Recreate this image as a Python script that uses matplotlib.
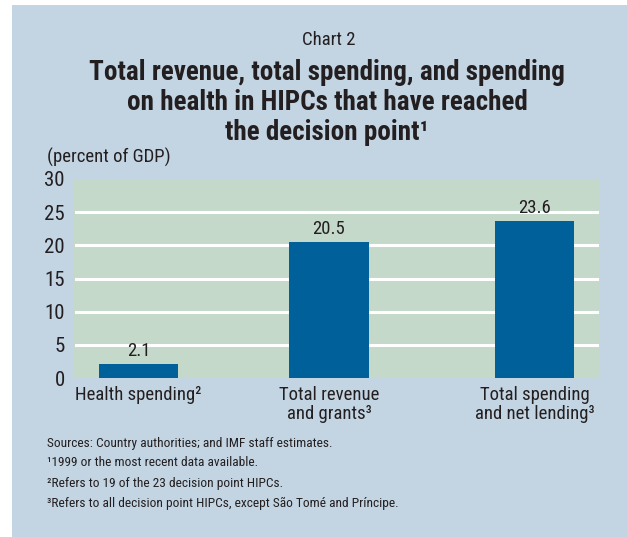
import matplotlib
matplotlib.use("Agg")
import matplotlib.pyplot as plt
from matplotlib import font_manager as fm
from matplotlib.patches import Rectangle

categories = ["Health spending\u00b2", "Total revenue\nand grants\u00b3", "Total spending\nand net lending\u00b3"]
values = [2.1, 20.5, 23.6]
value_labels = ["2.1", "20.5", "23.6"]
yticks = [0, 5, 10, 15, 20, 25, 30]
footnotes = [
    "Sources: Country authorities; and IMF staff estimates.",
    "\u00b91999 or the most recent data available.",
    "\u00b2Refers to 19 of the 23 decision point HIPCs.",
    "\u00b3Refers to all decision point HIPCs, except S\u00e3o Tom\u00e9 and Pr\u00edncipe.",
]

names = {f.name for f in fm.fontManager.ttflist}
pref = [n for n in ["Liberation Sans Narrow", "Roboto Condensed", "Roboto", "Liberation Sans"] if n in names]
fam = pref[:1] + ["DejaVu Sans"]
plt.rcParams['font.family'] = fam

TXT = "#231F20"
PANEL = "#C3D4E3"
PLOT = "#C5D9CB"
BAR = "#00609A"

W, H = 627, 537
fig = plt.figure(figsize=(W / 100, H / 100), dpi=100)
fig.patch.set_facecolor("white")
fig.patches.append(Rectangle((12 / W, 0), 1 - 12 / W, 1 - 5 / H, transform=fig.transFigure,
                             facecolor=PANEL, edgecolor="none", zorder=-5))

def fy(py):
    return 1 - py / H

def fx(px):
    return px / W

fig.text(fx(329), fy(40), "Chart 2", ha="center", va="center", fontsize=13.5, color=TXT)
title_lines = ["Total revenue, total spending, and spending",
               "on health in HIPCs that have reached",
               "the decision point\u00b9"]
for i, line in enumerate(title_lines):
    fig.text(fx(327), fy(72 + 30.5 * i), line, ha="center", va="center", fontsize=19.5,
             fontweight="bold", color=TXT)
fig.text(fx(47), fy(157), "(percent of GDP)", ha="left", va="center", fontsize=13.5, color=TXT)

ax = fig.add_axes([73 / W, 1 - 378 / H, 527 / W, 199 / H])
ax.set_zorder(1)
ax.set_facecolor(PLOT)
for s in ax.spines.values():
    s.set_visible(False)

x_pos = [0, 0.962, 2.0]
for t in yticks[1:-1]:
    ax.axhline(t, xmin=0.006, xmax=0.995, color="white", lw=2.2, zorder=1)
ax.bar(x_pos, values, width=0.40, color=BAR, zorder=2)
for x, v, lab in zip(x_pos, values, value_labels):
    ax.text(x, v + 0.6, lab, ha="center", va="bottom", fontsize=13.5, color=TXT)

ax.set_xlim(-0.331, 2.331)
ax.set_ylim(0, 30)
ax.set_yticks(yticks)
ax.set_yticklabels([str(t) for t in yticks], fontsize=15, color=TXT)
ax.set_xticks(x_pos)
ax.set_xticklabels(categories, fontsize=13.5, color=TXT, linespacing=1.05)
ax.tick_params(axis="both", length=0)
ax.tick_params(axis="y", pad=6)
ax.tick_params(axis="x", pad=6)

for i, line in enumerate(footnotes):
    fig.text(fx(47), fy(443 + 20 * i), line, ha="left", va="center", fontsize=9.6, color=TXT)

fig.savefig("out.png", dpi=100, facecolor=fig.get_facecolor())
